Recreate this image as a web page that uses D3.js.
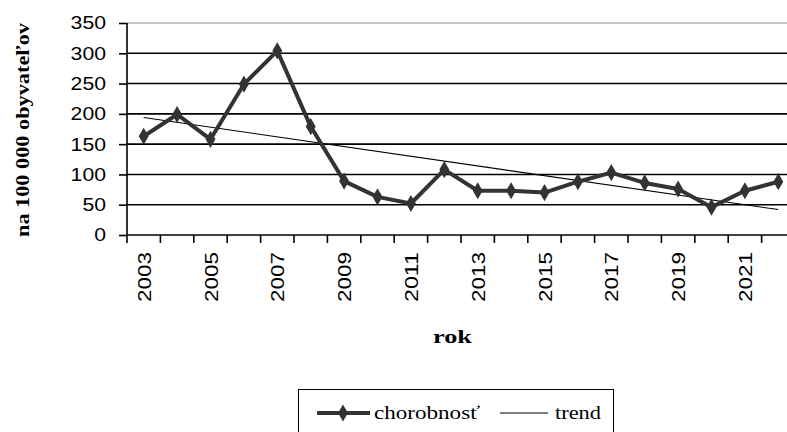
<!DOCTYPE html>
<html><head><meta charset="utf-8">
<script src="https://cdn.jsdelivr.net/npm/d3@7"></script>
<style>body{margin:0;background:#fff;overflow:hidden}svg{display:block}</style>
</head><body>
<script>
const years = [2003,2004,2005,2006,2007,2008,2009,2010,2011,2012,2013,2014,2015,2016,2017,2018,2019,2020,2021,2022];
const chorobnost = [163,199,158,249,304,179,89,63,52,108,73,73,70,88,103,86,76,46,73,88];
const trendYears = [2003,2022];
const trendValues = [194,42];
const yTicks = [0,50,100,150,200,250,300,350];
const xLabelYears = [2003,2005,2007,2009,2011,2013,2015,2017,2019,2021];

const W=787,H=432;
const sans="Liberation Sans, Arial, sans-serif", serif="Liberation Serif, Times New Roman, serif";
const svg=d3.select("body").append("svg").attr("width",W).attr("height",H);
const x=d3.scaleBand().domain(years).range([127,795]);
const y=d3.scaleLinear().domain([0,350]).range([235,23]);

// gridlines
svg.append("g").selectAll("line").data(yTicks.filter(d=>d>0)).join("line")
  .attr("x1",127).attr("x2",W).attr("y1",d=>y(d)).attr("y2",d=>y(d))
  .attr("stroke",d=>d===350?"#888":"#000").attr("stroke-width",d=>d===350?1:1.6);

// y axis
const ya=svg.append("g").attr("transform","translate(127,0)")
  .call(d3.axisLeft(y).tickValues(yTicks).tickSize(8).tickPadding(13));
ya.select(".domain").attr("stroke","#000").attr("stroke-width",1.6).attr("d","M0,23V235");
ya.selectAll(".tick line").attr("stroke","#000").attr("stroke-width",1.6);
ya.selectAll("text").attr("font-family",sans).attr("font-size",18.5).attr("fill","#000")
  .attr("textLength",d=>String(d).length*11.8).attr("lengthAdjust","spacingAndGlyphs");

// x axis
const xa=svg.append("g").attr("transform","translate(0,235)");
xa.append("line").attr("x1",127).attr("x2",W).attr("y1",0).attr("y2",0).attr("stroke","#000").attr("stroke-width",1.6);
const bounds=years.map(d=>x(d)).concat([x(years[years.length-1])+x.bandwidth()]);
xa.selectAll("line.t").data(bounds).join("line").attr("class","t")
  .attr("x1",d=>d).attr("x2",d=>d).attr("y1",0).attr("y2",8).attr("stroke","#000").attr("stroke-width",1.6);
xa.selectAll("text").data(xLabelYears).join("text")
  .attr("transform",d=>`translate(${x(d)+x.bandwidth()/2+7},17) rotate(-90)`)
  .attr("text-anchor","end").attr("font-family",sans).attr("font-size",19).attr("fill","#000")
  .attr("textLength",50).attr("lengthAdjust","spacingAndGlyphs")
  .text(d=>d);

// trend
svg.append("path").datum(trendYears.map((d,i)=>[d,trendValues[i]]))
  .attr("d",d3.line().x(d=>x(d[0])+x.bandwidth()/2).y(d=>y(d[1])))
  .attr("fill","none").attr("stroke","#000").attr("stroke-width",1.1);

// main line
svg.append("path").datum(years.map((d,i)=>[d,chorobnost[i]]))
  .attr("d",d3.line().x(d=>x(d[0])+x.bandwidth()/2).y(d=>y(d[1])))
  .attr("fill","none").attr("stroke","#333").attr("stroke-width",4).attr("stroke-linejoin","round");
const diamond=d3.symbol().type(d3.symbolDiamond).size(85);
svg.append("g").selectAll("path").data(years.map((d,i)=>[d,chorobnost[i]])).join("path")
  .attr("d",diamond).attr("transform",d=>`translate(${x(d[0])+x.bandwidth()/2},${y(d[1])})`).attr("fill","#333");

// axis titles
svg.append("text").attr("transform","translate(29,130) rotate(-90)").attr("text-anchor","middle")
  .attr("font-family",serif).attr("font-weight","bold").attr("font-size",18).attr("fill","#000")
  .attr("textLength",214).attr("lengthAdjust","spacingAndGlyphs")
  .text("na 100 000 obyvateľov");
svg.append("text").attr("x",433).attr("y",343)
  .attr("font-family",serif).attr("font-weight","bold").attr("font-size",19).attr("fill","#000")
  .attr("textLength",39).attr("lengthAdjust","spacingAndGlyphs")
  .text("rok");

// legend
const lg=svg.append("g");
lg.append("rect").attr("x",298.5).attr("y",389.5).attr("width",315).attr("height",60).attr("fill","#fff").attr("stroke","#000").attr("stroke-width",1);
lg.append("line").attr("x1",317).attr("x2",370).attr("y1",413).attr("y2",413).attr("stroke","#333").attr("stroke-width",4);
lg.append("path").attr("d",diamond).attr("transform","translate(343,413)").attr("fill","#333");
lg.append("text").attr("x",374).attr("y",419).attr("font-family",serif).attr("font-size",19).attr("fill","#000")
  .attr("textLength",106).attr("lengthAdjust","spacingAndGlyphs").text("chorobnosť");
lg.append("line").attr("x1",500).attr("x2",548).attr("y1",413).attr("y2",413).attr("stroke","#000").attr("stroke-width",1.1);
lg.append("text").attr("x",555).attr("y",419).attr("font-family",serif).attr("font-size",19).attr("fill","#000")
  .attr("textLength",46).attr("lengthAdjust","spacingAndGlyphs").text("trend");
</script>
</body></html>
